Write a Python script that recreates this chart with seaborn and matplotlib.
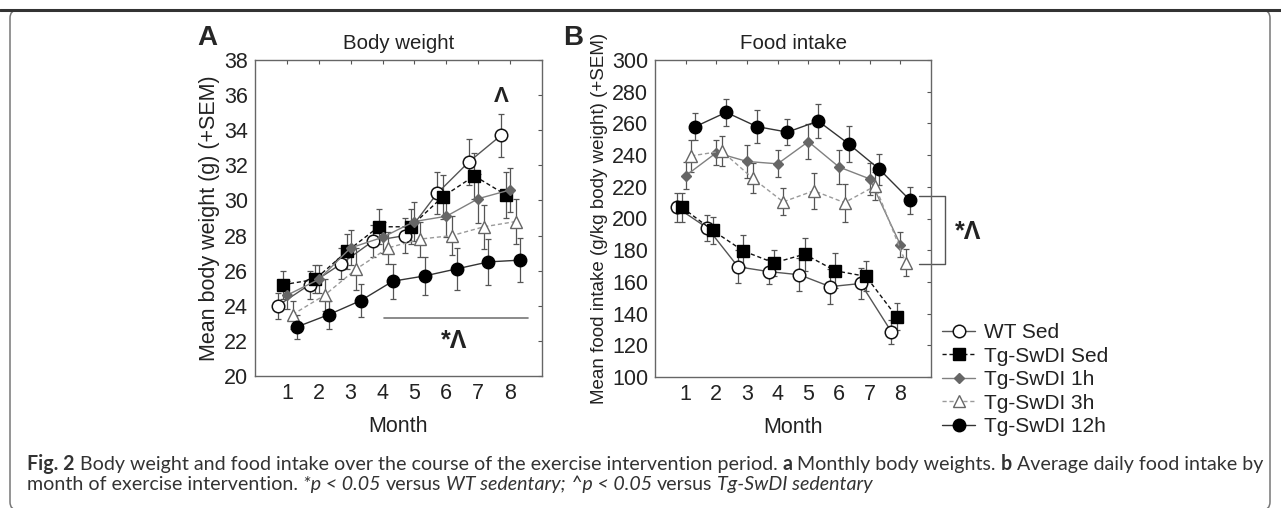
import numpy as np
import pandas as pd
import matplotlib
matplotlib.use("Agg")
import matplotlib.pyplot as plt
import seaborn as sns
from matplotlib.lines import Line2D
from matplotlib.patches import FancyBboxPatch
from matplotlib.transforms import IdentityTransform

# ---------------- data ----------------
months = [1, 2, 3, 4, 5, 6, 7, 8]
groups = ["WT Sed", "Tg-SwDI Sed", "Tg-SwDI 1h", "Tg-SwDI 3h", "Tg-SwDI 12h"]

bw_wt_sed = [24.0, 25.2, 26.4, 27.7, 28.0, 30.4, 32.2, 33.7]
bw_tg_sed = [25.2, 25.5, 27.1, 28.5, 28.5, 30.2, 31.4, 30.3]
bw_tg_1h = [24.6, 25.5, 27.3, 27.9, 28.8, 29.1, 30.1, 30.6]
bw_tg_3h = [23.5, 24.6, 26.1, 27.3, 27.8, 28.0, 28.5, 28.8]
bw_tg_12h = [22.8, 23.5, 24.3, 25.4, 25.7, 26.1, 26.5, 26.6]

bw_sem_wt_sed = [0.75, 0.8, 0.9, 0.9, 1.0, 1.2, 1.3, 1.25]
bw_sem_tg_sed = [0.8, 0.8, 1.0, 1.0, 1.0, 1.25, 1.3, 1.3]
bw_sem_tg_1h = [0.8, 0.8, 1.0, 0.9, 1.1, 1.2, 1.4, 1.25]
bw_sem_tg_3h = [0.8, 0.9, 1.2, 0.9, 1.0, 1.1, 1.25, 1.3]
bw_sem_tg_12h = [0.7, 0.8, 0.95, 1.0, 1.1, 1.2, 1.3, 1.25]

fi_wt_sed = [207, 194, 169.5, 166.5, 164.5, 157, 159, 128.5]
fi_tg_sed = [207, 192.5, 179.5, 172, 177.5, 167, 163.5, 138]
fi_tg_1h = [227, 241.5, 236, 234.5, 248.5, 232.5, 225, 183.5]
fi_tg_3h = [239.5, 242.5, 225.5, 210.5, 217.5, 210, 220.5, 172]
fi_tg_12h = [258, 267, 258, 254.5, 261.5, 247, 231, 211.5]

fi_sem_wt_sed = [9, 8.5, 10.5, 8, 10.5, 11, 9.5, 7.5]
fi_sem_tg_sed = [9, 8.5, 10, 8, 10.5, 11, 9.5, 8.5]
fi_sem_tg_1h = [8.5, 8, 10.5, 8.5, 11, 11, 10, 8]
fi_sem_tg_3h = [10, 9.5, 9.5, 8.5, 11.5, 12, 9, 8.5]
fi_sem_tg_12h = [8.5, 8.5, 10.5, 8, 10.5, 11.5, 10, 8.5]

bw_means = [bw_wt_sed, bw_tg_sed, bw_tg_1h, bw_tg_3h, bw_tg_12h]
bw_sems = [bw_sem_wt_sed, bw_sem_tg_sed, bw_sem_tg_1h, bw_sem_tg_3h, bw_sem_tg_12h]
fi_means = [fi_wt_sed, fi_tg_sed, fi_tg_1h, fi_tg_3h, fi_tg_12h]
fi_sems = [fi_sem_wt_sed, fi_sem_tg_sed, fi_sem_tg_1h, fi_sem_tg_3h, fi_sem_tg_12h]

# ---------------- style ----------------
sns.set_style("white")
plt.rcParams["font.family"] = ["Liberation Sans", "DejaVu Sans"]

offsets = [-0.29, -0.12, 0.0, 0.18, 0.32]
styles = [
    dict(marker="o", ms=9, mfc="white", mec="#111111", mew=1.1, color="#555555", ls="-"),
    dict(marker="s", ms=8.5, mfc="#000000", mec="#000000", mew=1.0, color="#111111", ls=(0, (3, 2))),
    dict(marker="D", ms=5.5, mfc="#666666", mec="#666666", mew=1.0, color="#808080", ls="-"),
    dict(marker="^", ms=8, mfc="white", mec="#666666", mew=1.0, color="#9a9a9a", ls=(0, (3, 2))),
    dict(marker="o", ms=9, mfc="#000000", mec="#000000", mew=1.0, color="#333333", ls="-"),
]

def make_df(means, sems):
    rows = []
    for g, m, s, off in zip(groups, means, sems, offsets):
        for mo, v, e in zip(months, m, s):
            rows.append(dict(group=g, month=mo, x=mo + off, value=v, err=e))
    return pd.DataFrame(rows)

W, H = 1281, 508
fig = plt.figure(figsize=(W / 100, H / 100), dpi=100)

def px_axes(l, r, t, b):
    return fig.add_axes([l / W, (H - b) / H, (r - l) / W, (b - t) / H])

axA = px_axes(255, 542, 60, 376)
axB = px_axes(655, 931, 60, 377)

def draw_panel(ax, df):
    for i, g in enumerate(groups):
        sub = df[df["group"] == g]
        st = styles[i]
        ax.errorbar(sub["x"], sub["value"], yerr=sub["err"], fmt="none", ecolor="#555555",
                    elinewidth=0.9, capsize=2.5, capthick=0.9, zorder=2 + i * 0.1)
        sns.lineplot(data=sub, x="x", y="value", ax=ax, estimator=None, sort=False,
                     color=st["color"], linestyle=st["ls"], linewidth=1.0,
                     marker=st["marker"], markersize=st["ms"], markerfacecolor=st["mfc"],
                     markeredgecolor=st["mec"], markeredgewidth=st["mew"],
                     zorder=3 + i * 0.1, legend=False)
    ax.set_xlim(0, 9)
    ax.set_xticks(months)
    ax.set_xlabel("Month", fontsize=15.5, color="#222222", labelpad=9)
    ax.tick_params(direction="in", top=True, right=True, length=3, width=0.8,
                   color="#555555", labelsize=15.5, labelcolor="#222222", pad=5)
    for sp in ax.spines.values():
        sp.set_color("#666666")
        sp.set_linewidth(1.0)

dfA = make_df(bw_means, bw_sems)
dfB = make_df(fi_means, fi_sems)

draw_panel(axA, dfA)
axA.set_ylim(20, 38)
axA.set_yticks(np.arange(20, 39, 2))
axA.set_ylabel("Mean body weight (g) (+SEM)", fontsize=15.5, color="#222222", labelpad=3)
axA.set_title("Body weight", fontsize=14.7, color="#222222", pad=8)

draw_panel(axB, dfB)
axB.set_ylim(100, 300)
axB.set_yticks(np.arange(100, 301, 20))
axB.set_ylabel("Mean food intake (g/kg body weight) (+SEM)", fontsize=13.5, color="#222222", labelpad=3)
axB.set_title("Food intake", fontsize=14.8, color="#222222", pad=8)

# significance marks
axA.plot([4.03, 8.55], [23.3, 23.3], color="#777777", lw=1.2, zorder=1)
axA.text(6.25, 22.0, "*Λ", ha="center", va="center", fontsize=18, fontweight="bold", color="#222222")
axA.text(7.72, 35.9, "Λ", ha="center", va="center", fontsize=16, fontweight="bold", color="#222222")

axB.plot([8.61, 9.46, 9.46, 8.61], [214.2, 214.2, 171.3, 171.3], color="#555555", lw=1.0, clip_on=False)
axB.text(10.2, 191.5, "*Λ", ha="center", va="center", fontsize=18, fontweight="bold", color="#222222", clip_on=False)

# panel letters
fig.text(207 / W, 1 - 38 / H, "A", fontsize=20, fontweight="bold", ha="center", va="center")
fig.text(573 / W, 1 - 38 / H, "B", fontsize=20, fontweight="bold", ha="center", va="center")

# legend
handles = [Line2D([0], [0], color=st["color"], linestyle=st["ls"], linewidth=1.0,
                  marker=st["marker"], markersize=st["ms"], markerfacecolor=st["mfc"],
                  markeredgecolor=st["mec"], markeredgewidth=st["mew"]) for st in styles]
fig.legend(handles, groups, loc="upper left", bbox_to_anchor=(942 / W, 1 - 323 / H),
           frameon=False, fontsize=15, handlelength=1.6, handletextpad=0.4,
           labelspacing=0.22, borderpad=0, borderaxespad=0, labelcolor="#222222")

# frame: rounded box plus dark top rule
box = FancyBboxPatch((10, -2), 1260, 500, boxstyle="round,pad=0,rounding_size=8",
                     transform=IdentityTransform(), fill=False, edgecolor="#777777", lw=1.1)
fig.add_artist(box)
fig.add_artist(Line2D([0, 1], [1 - 10 / H, 1 - 10 / H], color="#333333", lw=2.2))

# caption with mixed styles
cap_family = ["Lato", "DejaVu Sans"]
renderer = fig.canvas.get_renderer()

def width_px(txt, fs, weight="normal", style="normal"):
    t = fig.text(0, 0, txt, fontsize=fs, family=cap_family, fontweight=weight, fontstyle=style)
    w = t.get_window_extent(renderer).width
    t.remove()
    return w

line1 = [("Fig. 2", "bold", "normal"),
         ("Body weight and food intake over the course of the exercise intervention period.", "normal", "normal"),
         ("a", "bold", "normal"),
         ("Monthly body weights.", "normal", "normal"),
         ("b", "bold", "normal"),
         ("Average daily food intake by", "normal", "normal")]
line2 = [("month of exercise intervention.", "normal", "normal"),
         ("*p < 0.05", "normal", "italic"),
         ("versus", "normal", "normal"),
         ("WT sedentary;", "normal", "italic"),
         ("^p < 0.05", "normal", "italic"),
         ("versus", "normal", "normal"),
         ("Tg-SwDI sedentary", "normal", "italic")]

def line_width(pieces, fs):
    sp = width_px("a a", fs) - width_px("aa", fs)
    return sum(width_px(p, fs, w, s) for p, w, s in pieces) + sp * (len(pieces) - 1)

w10 = line_width(line1, 10)
cap_fs = 10 * (1267 - 27) / w10

def draw_line(pieces, y_px, fs):
    sp = width_px("a a", fs) - width_px("aa", fs)
    x = 27.0
    for p, w, s in pieces:
        fig.text(x / W, 1 - y_px / H, p, fontsize=fs, family=cap_family, fontweight=w,
                 fontstyle=s, color="#333333", va="baseline", ha="left")
        x += width_px(p, fs, w, s) + sp

draw_line(line1, 470, cap_fs)
draw_line(line2, 490, cap_fs)

fig.savefig("out.png", dpi=100)
